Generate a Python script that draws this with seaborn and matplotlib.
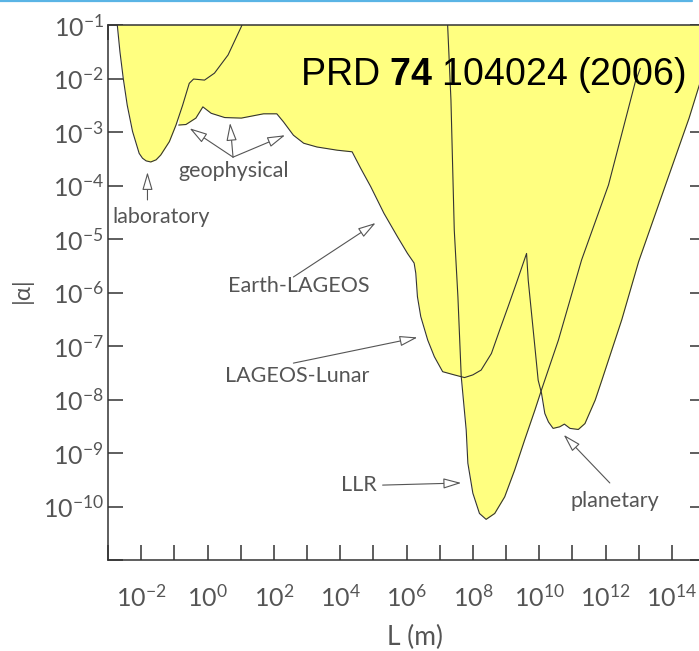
import numpy as np
import pandas as pd
import seaborn as sns
import matplotlib.pyplot as plt
from matplotlib.ticker import FixedLocator, FuncFormatter, NullLocator
from matplotlib.patches import ArrowStyle
from matplotlib.lines import Line2D

# bounds: log10(L / m) and log10|alpha|
lab_logL = [-2.72, -2.64, -2.54, -2.42, -2.26, -2.06, -1.96, -1.85, -1.71, -1.55, -1.41, -1.15,
            -0.95, -0.75, -0.55, -0.42, -0.09, 0.21, 0.62, 1.02, 1.04]
lab_logA = [-1.00, -1.50, -2.00, -2.50, -2.99, -3.40, -3.49, -3.54, -3.56, -3.52, -3.43, -3.18,
            -2.87, -2.50, -2.09, -2.01, -2.03, -1.90, -1.56, -1.03, -1.00]

# geophysical -> Earth-LAGEOS -> LAGEOS-Lunar -> planetary
main_logL = [-0.87, -0.65, -0.35, -0.14, 0.11, 0.52, 1.02, 1.52, 1.69, 2.09,
             2.29, 2.59, 2.90, 3.30, 3.91, 4.36, 4.62, 4.92, 5.32, 5.73,
             6.03, 6.23, 6.28, 6.33, 6.43, 6.64, 6.84, 7.09, 7.44, 7.75,
             8.00, 8.25, 8.56, 8.81, 9.06, 9.31, 9.62, 9.67, 9.77, 9.87,
             9.97, 10.07, 10.17, 10.28, 10.42, 10.62, 10.76, 10.93, 11.18, 11.38,
             11.69, 11.89, 12.49, 13.00, 13.81, 14.52, 14.89, 15.43]
main_logA = [-2.87, -2.86, -2.74, -2.53, -2.65, -2.73, -2.74, -2.68, -2.66, -2.66,
             -2.81, -3.06, -3.21, -3.28, -3.34, -3.37, -3.68, -4.02, -4.52, -4.96,
             -5.27, -5.45, -5.64, -6.08, -6.45, -6.89, -7.20, -7.48, -7.54, -7.59,
             -7.54, -7.45, -7.14, -6.70, -6.27, -5.83, -5.27, -5.77, -6.39, -7.01,
             -7.64, -7.88, -8.26, -8.42, -8.54, -8.51, -8.46, -8.54, -8.56, -8.45,
             -8.01, -7.64, -6.51, -5.42, -3.99, -2.74, -2.00, -1.00]

llr_logL = [7.24, 7.34, 7.44, 7.55, 7.65, 7.80, 7.85, 8.00, 8.20, 8.40,
            8.66, 8.96, 9.26, 9.56, 9.87, 10.07, 10.58, 11.28, 12.09, 12.90, 13.05]
llr_logA = [-1.00, -2.40, -4.83, -6.08, -7.57, -8.57, -9.19, -9.75, -10.13, -10.24,
            -10.13, -9.82, -9.32, -8.76, -8.20, -7.82, -6.89, -5.39, -3.99, -2.06, -1.81]

x_exp = np.arange(-3, 16)
x_lab_exp = [-2, 0, 2, 4, 6, 8, 10, 12, 14]
y_exp = np.arange(-11, 0)
y_lab_exp = [-10, -9, -8, -7, -6, -5, -4, -3, -2, -1]

sns.set_style('ticks')
plt.rcParams['font.family'] = ['Lato', 'DejaVu Sans']
plt.rcParams['mathtext.fontset'] = 'custom'
plt.rcParams['mathtext.rm'] = 'Liberation Sans'
plt.rcParams['mathtext.bf'] = 'Liberation Sans:bold'

yellow = '#ffff80'
edge = '#333333'
grey = '#555555'

fig = plt.figure(figsize=(6.99, 6.51), dpi=100)
ax = fig.add_axes([108/699, 1-560/651, (705-108)/699, (560-25)/651])
ax.set_xscale('log')
ax.set_yscale('log')

curves = [(lab_logL, lab_logA), (main_logL, main_logA), (llr_logL, llr_logA)]
for lx, ly in curves:
    d = pd.DataFrame({'L': 10.0**np.array(lx), 'a': 10.0**np.array(ly)})
    ax.fill_between(d['L'], d['a'], 1.0, color=yellow, lw=0, zorder=1)
for lx, ly in curves:
    d = pd.DataFrame({'L': 10.0**np.array(lx), 'a': 10.0**np.array(ly)})
    sns.lineplot(data=d, x='L', y='a', ax=ax, sort=False, estimator=None,
                 color=edge, lw=0.8, zorder=2)

ax.set_xlim(1e-3, 1e15)
ax.set_ylim(1e-11, 1e-1)
ax.set_xlabel('')
ax.set_ylabel('')

ax.xaxis.set_major_locator(FixedLocator(10.0**x_exp))
ax.xaxis.set_minor_locator(NullLocator())
ax.yaxis.set_major_locator(FixedLocator(10.0**y_exp))
ax.yaxis.set_minor_locator(NullLocator())

def fmt(labs):
    def f(v, p):
        e = int(round(np.log10(v)))
        return r'$\mathdefault{10^{%d}}$' % e if e in labs else ''
    return FuncFormatter(f)

ax.xaxis.set_major_formatter(fmt(x_lab_exp))
ax.yaxis.set_major_formatter(fmt(y_lab_exp))
ax.tick_params(which='major', direction='in', length=11, width=1.1, color=edge,
               labelcolor=grey, labelsize=18, top=True, right=True)
ax.tick_params(axis='x', pad=17)
ax.tick_params(axis='y', pad=3)
for s in ax.spines.values():
    s.set_color(edge)
    s.set_linewidth(1.1)

# labels and arrows (positions in log10 data units)
texts = [('laboratory', -1.39, -4.59), ('geophysical', 0.80, -3.73),
         ('Earth-LAGEOS', 2.75, -5.88), ('LAGEOS-Lunar', 2.71, -7.57),
         ('LLR', 4.57, -9.60), ('planetary', 12.27, -9.90)]
arrows = [(-1.81, -4.27, -1.81, -3.75),
          (0.77, -3.47, -0.54, -2.93), (0.77, -3.47, 0.68, -2.83), (0.77, -3.47, 2.34, -3.06),
          (2.59, -5.71, 5.07, -4.70),
          (2.59, -7.32, 6.33, -6.84),
          (5.28, -9.60, 7.65, -9.56),
          (12.13, -9.56, 10.74, -8.66)]
style = ArrowStyle('-|>', head_length=1.1, head_width=0.32)
for t, lx, ly in texts:
    ax.text(10**lx, 10**ly, t, ha='center', va='center', fontsize=15.5,
            color=grey, zorder=4)
for x0, y0, x1, y1 in arrows:
    ax.annotate('', xy=(10**x1, 10**y1), xytext=(10**x0, 10**y0),
                arrowprops=dict(arrowstyle=style, fc='white', ec=grey, lw=0.8,
                                shrinkA=0, shrinkB=0, mutation_scale=10), zorder=4)

fig.text(300/699, 1-85/651, r'PRD $\mathbf{74}$ 104024 (2006)', ha='left', va='baseline',
         fontsize=27, family='Liberation Sans', color='black', zorder=10)
fig.text(22/699, 1-290/651, '|α|', rotation=90, ha='center', va='center',
         fontsize=17, color=grey)
fig.text(415/699, 1-637/651, 'L (m)', ha='center', va='center',
         fontsize=19, color=grey)
fig.add_artist(Line2D([0, 692/699], [1-1/651, 1-1/651], color='#5ab4e5', lw=1.6))

fig.savefig('out.png', dpi=100)
